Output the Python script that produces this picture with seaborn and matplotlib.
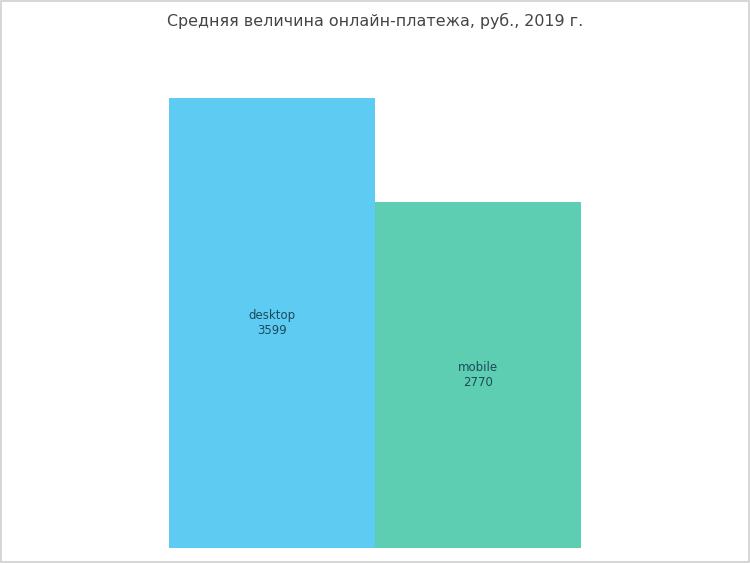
import matplotlib
matplotlib.use("Agg")
import matplotlib.pyplot as plt
import seaborn as sns
import pandas as pd
from matplotlib.patches import Rectangle

# данные
categories = ["desktop", "mobile"]
values = [3599, 2770]
colors = ["#5ECBF3", "#5ECEB3"]

df = pd.DataFrame({"device": categories, "payment": values})

sns.set_style("white")
plt.rcParams['font.family'] = ['DejaVu Sans']

fig = plt.figure(figsize=(7.5, 5.63), dpi=100)
ax = fig.add_axes([169 / 750, 1 - 548 / 563, 412 / 750, 450 / 563])

sns.barplot(data=df, x="device", y="payment", hue="device", palette=colors,
            width=1.0, saturation=1, legend=False, ax=ax, linewidth=0)

ax.set_xlim(-0.5, 1.5)
ax.set_ylim(0, max(values))
ax.axis("off")

# подписи в центре столбцов
for i, (cat, val) in enumerate(zip(categories, values)):
    ax.text(i, val / 2, f"{cat}\n{val}", ha="center", va="center",
            fontsize=8.5, color="#1D4A5A", linespacing=1.25)

fig.text(0.5, 1 - 21 / 563, "Средняя величина онлайн-платежа, руб., 2019 г.",
         ha="center", va="center", fontsize=11.4, color="#444444")

# рамка вокруг картинки
fig.patches.append(Rectangle((0.001, 0.002), 0.997, 0.996, transform=fig.transFigure,
                             fill=False, edgecolor="#D0D0D0", linewidth=1.2))

fig.savefig("out.png", dpi=100)
